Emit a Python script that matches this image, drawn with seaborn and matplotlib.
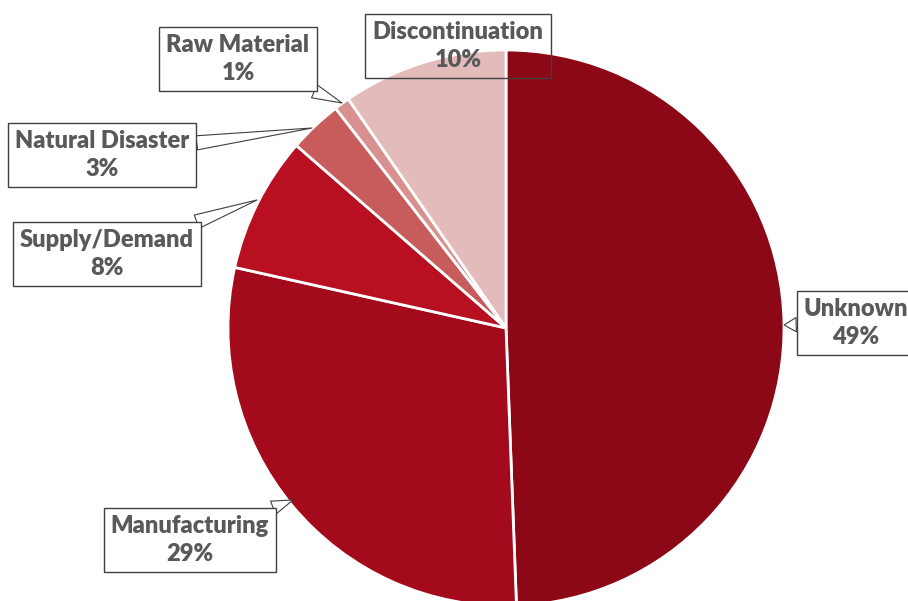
import seaborn as sns
import matplotlib.pyplot as plt

causes = ['Unknown', 'Manufacturing', 'Supply/Demand',
          'Natural Disaster', 'Raw Material', 'Discontinuation']
shares = [49.4, 29.1, 7.9, 3.1, 0.9, 9.6]
colors = ['#8C0816', '#A30A1C', '#B80F21', '#C85B5C', '#D8918F', '#E3BBBB']

sns.set_theme(style='white')
plt.rcParams['font.family'] = ['Lato', 'DejaVu Sans']

W, H = 908, 601
fig = plt.figure(figsize=(W / 100, H / 100), dpi=100)
ax = fig.add_axes([0, 0, 1, 1])

# pie in pixel coords (y flipped so that y goes up)
cx, cy, r = 506, H - 328, 278
ax.pie(shares, colors=colors, startangle=90, counterclock=False,
       center=(cx, cy), radius=r,
       wedgeprops=dict(edgecolor='white', linewidth=2))
ax.set_xlim(0, W)
ax.set_ylim(0, H)
ax.set_aspect('equal')
ax.axis('off')

# label box centre and the point on the pie the callout points at (pixels)
label_pos = {
    'Unknown': ((856, 323), (784, 325)),
    'Manufacturing': ((190, 540), (293, 500)),
    'Supply/Demand': ((107, 254), (257, 200)),
    'Natural Disaster': ((102, 155), (312, 128)),
    'Raw Material': ((238, 59), (342, 103)),
    'Discontinuation': ((458, 46), None),
}

for name, val in zip(causes, shares):
    (bx, by), tip = label_pos[name]
    txt = f'{name}\n{round(val):.0f}%'
    box = dict(boxstyle='square,pad=0.3', fc='white', ec='#404040', lw=1)
    if name == 'Discontinuation':
        box['fc'] = 'none'
    kw = dict(ha='center', va='center', fontsize=17, fontweight=800,
              color='#595959', linespacing=1.3, bbox=box)
    if tip is None:
        ax.text(bx, H - by, txt, **kw)
    else:
        ax.annotate(txt, xy=(tip[0], H - tip[1]), xytext=(bx, H - by),
                    arrowprops=dict(arrowstyle='wedge,tail_width=0.6',
                                    fc='white', ec='#404040', lw=0.8,
                                    shrinkA=0, shrinkB=0),
                    **kw)

fig.savefig('out.png', dpi=100)
